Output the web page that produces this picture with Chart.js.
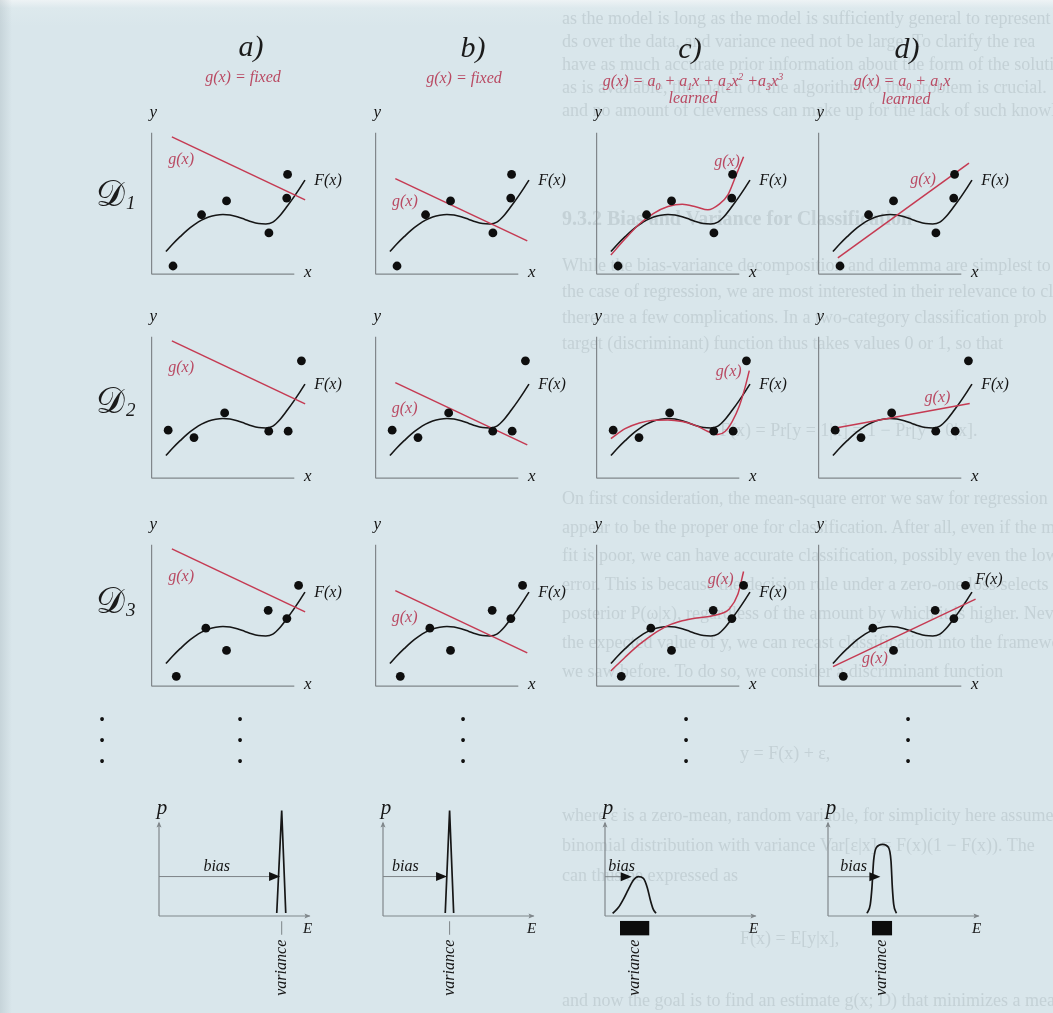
<!DOCTYPE html>
<html>
<head>
<meta charset="utf-8">
<script src="https://cdn.jsdelivr.net/npm/chart.js@4.4.1/dist/chart.umd.min.js"></script>
<style>
  html, body { margin: 0; padding: 0; }
  body { width: 1053px; height: 1013px; overflow: hidden; background: #d9e6eb; }
  #page { position: absolute; left: 0; top: 0; width: 1053px; height: 1013px; overflow: hidden;
          background: linear-gradient(to bottom, #eef3f5 0px, #dde9ed 8px, #d9e6eb 26px); font-family: "Liberation Serif", "DejaVu Serif", serif; }
  #edge { position: absolute; left: 0; top: 0; width: 12px; height: 1013px; background: linear-gradient(to right, rgba(150,165,172,0.28), rgba(150,165,172,0)); }
  .bleed { position: absolute; left: 0; top: 0; width: 1053px; height: 1013px; color: #c4d1d6; font-size: 18px; filter: blur(0.7px); }
  .bleed div { position: absolute; white-space: nowrap; line-height: 20px; }
  .bleed .h { font-weight: bold; font-size: 20px; }
  canvas { position: absolute; }
  .t { position: absolute; font-style: italic; white-space: nowrap; line-height: 1; transform: translate(-50%, -50%); }
  .title { font-size: 30px; color: #1b1b1b; }
  .sub { font-size: 16px; color: #b94a63; }
  .sub sub, .sub sup { font-size: 10px; line-height: 0; }
  .dl { position: absolute; white-space: nowrap; color: #1b1b1b; line-height: 1; }
  .dl .cal { font-size: 36px; font-family: "DejaVu Serif", "Noto Sans", serif; }
  .dl .n { font-size: 19px; font-style: italic; font-family: "Liberation Serif", serif; position: relative; top: 3px; margin-left: 1px; }
  .dots { position: absolute; font-size: 16px; line-height: 21px; color: #111; transform: translateX(-50%); font-family: "Liberation Serif", serif; }
</style>
</head>
<body>
<div id="page">
  <div id="edge"></div>
  <div class="bleed" id="bleed"></div>

  <div class="t title" style="left:251px;top:46px">a)</div>
  <div class="t title" style="left:473px;top:47px">b)</div>
  <div class="t title" style="left:690px;top:48px">c)</div>
  <div class="t title" style="left:907px;top:48px">d)</div>

  <div class="t sub" style="left:243px;top:77px">g(x) = fixed</div>
  <div class="t sub" style="left:464px;top:78px">g(x) = fixed</div>
  <div class="t sub" style="left:693px;top:81px">g(x) = a<sub>0</sub> + a<sub>1</sub>x + a<sub>2</sub>x<sup>2</sup> +a<sub>3</sub>x<sup>3</sup></div>
  <div class="t sub" style="left:693px;top:98px">learned</div>
  <div class="t sub" style="left:902px;top:81px">g(x) = a<sub>0</sub> + a<sub>1</sub>x</div>
  <div class="t sub" style="left:906px;top:99px">learned</div>

  <div class="dl" style="left:96px;top:176px"><span class="cal">𝒟</span><span class="n">1</span></div>
  <div class="dl" style="left:96px;top:383px"><span class="cal">𝒟</span><span class="n">2</span></div>
  <div class="dl" style="left:96px;top:583px"><span class="cal">𝒟</span><span class="n">3</span></div>

  <div class="dots" style="left:102px;top:709px">•<br>•<br>•</div>
  <div class="dots" style="left:240px;top:709px">•<br>•<br>•</div>
  <div class="dots" style="left:463px;top:709px">•<br>•<br>•</div>
  <div class="dots" style="left:686px;top:709px">•<br>•<br>•</div>
  <div class="dots" style="left:908px;top:709px">•<br>•<br>•</div>
</div>

<script>
// ---------- target function F(x), sampled ----------
const fX = [1.0, 1.5, 2.0, 2.5, 3.0, 3.5, 4.0, 4.5, 5.0, 5.5, 6.0, 6.5, 7.0, 7.5, 8.0, 8.5, 9.0, 9.5, 10.0, 10.4, 10.75];
const fY = [1.6, 2.15, 2.65, 3.12, 3.5, 3.82, 4.04, 4.17, 4.22, 4.18, 4.06, 3.89, 3.71, 3.58, 3.55, 3.68, 4.15, 4.8, 5.5, 6.1, 6.65];

// ---------- training sets D1, D2, D3 ----------
const d1X = [1.5, 3.5, 5.25, 8.22, 9.47, 9.53];
const d1Y = [0.58, 4.2, 5.18, 2.92, 5.38, 7.05];
const d2X = [1.16, 2.97, 5.12, 8.21, 9.57, 10.5];
const d2Y = [3.39, 2.87, 4.61, 3.32, 3.32, 8.29];
const d3X = [1.73, 3.8, 5.25, 8.17, 9.48, 10.3];
const d3Y = [0.7, 4.1, 2.53, 5.36, 4.78, 7.12];

// ---------- column a / b: fixed g(x) ----------
const gFixedAX = [1.42, 10.76];
const gFixedAY = [9.7, 5.25];
const gFixedBX = [1.38, 10.63];
const gFixedBY = [6.75, 2.35];

// ---------- column c: learned cubic g(x) per training set ----------
const gCubic1X = [1.0, 2.0, 3.0, 4.0, 5.0, 6.0, 7.0, 7.8, 8.6, 9.2, 9.7, 10.3];
const gCubic1Y = [1.35, 2.5, 3.55, 4.3, 4.78, 4.95, 4.75, 4.55, 4.95, 5.6, 6.8, 8.3];
const gCubic2X = [1.0, 2.0, 3.0, 4.0, 5.0, 6.0, 7.0, 7.8, 8.5, 9.0, 9.5, 10.0, 10.4, 10.7];
const gCubic2Y = [2.8, 3.5, 3.9, 4.1, 4.12, 4.0, 3.7, 3.3, 3.08, 3.3, 4.0, 5.1, 6.4, 7.6];
const gCubic3X = [1.0, 2.0, 3.0, 4.0, 5.0, 6.0, 7.0, 8.0, 8.8, 9.3, 9.9, 10.3];
const gCubic3Y = [1.08, 2.05, 2.95, 3.7, 4.28, 4.62, 4.82, 4.95, 5.15, 5.45, 6.5, 8.1];

// ---------- column d: learned linear g(x) per training set ----------
const gLin1X = [1.35, 10.54];
const gLin1Y = [1.15, 7.84];
const gLin2X = [1.01, 10.59];
const gLin2Y = [3.51, 5.27];
const gLin3X = [1.01, 11.0];
const gLin3Y = [1.38, 6.15];

// ---------- error distributions p(E) ----------
const spikeAX = [7.85, 8.18, 8.45];
const spikeAY = [0.2, 7.03, 0.2];
const spikeBX = [4.15, 4.44, 4.71];
const spikeBY = [0.2, 7.03, 0.2];
const bellCX = [0.51, 0.89, 1.22, 1.56, 1.89, 2.22, 2.56, 2.82, 3.04, 3.22, 3.4];
const bellCY = [0.18, 0.56, 1.11, 1.78, 2.38, 2.62, 2.51, 1.89, 1.0, 0.44, 0.18];
const bellDX = [2.6, 2.82, 2.93, 3.04, 3.22, 3.64, 4.04, 4.2, 4.29, 4.38, 4.56];
const bellDY = [0.18, 0.78, 1.89, 3.67, 4.56, 4.78, 4.56, 3.67, 1.89, 0.78, 0.18];
const biasLevel = [2.63, 2.63, 2.62, 2.62];
const biasTip = [8.07, 4.27, 1.78, 3.49];
const varFrom = [8.18, 4.44, 1.0, 2.93];
const varTo = [8.18, 4.44, 2.95, 4.27];

// ---------- text of the following page, showing through ----------
const bleedLines = [
  [562, 18, "as the model is long as the model is sufficiently general to represent"],
  [562, 41, "ds over the data, and variance need not be large. To clarify the rea"],
  [562, 64, "have as much accurate prior information about the form of the solutio"],
  [562, 87, "as is available, the match of the algorithm to the problem is crucial."],
  [562, 110, "and no amount of cleverness can make up for the lack of such knowledge"],
  [562, 218, "9.3.2 Bias and Variance for Classification", "h"],
  [562, 265, "While the bias-variance decomposition and dilemma are simplest to"],
  [562, 291, "the case of regression, we are most interested in their relevance to clas"],
  [562, 317, "there are a few complications. In a two-category classification prob"],
  [562, 343, "target (discriminant) function thus takes values 0 or 1, so that"],
  [720, 430, "F(x) = Pr[y = 1|x] = 1 − Pr[y = 0|x]."],
  [562, 498, "On first consideration, the mean-square error we saw for regression (Eq."],
  [562, 527, "appear to be the proper one for classification. After all, even if the mea"],
  [562, 555, "fit is poor, we can have accurate classification, possibly even the lowes"],
  [562, 584, "error. This is because the decision rule under a zero-one loss selects the"],
  [562, 613, "posterior P(ω|x), regardless of the amount by which it is higher. Neverth"],
  [562, 642, "the expected value of y, we can recast classification into the framework"],
  [562, 671, "we saw before. To do so, we consider a discriminant function"],
  [740, 753, "y = F(x) + ε,"],
  [562, 815, "where ε is a zero-mean, random variable, for simplicity here assumed"],
  [562, 845, "binomial distribution with variance Var[ε|x] = F(x)(1 − F(x)). The"],
  [562, 875, "can thus be expressed as"],
  [740, 938, "F(x) = E[y|x],"],
  [562, 1000, "and now the goal is to find an estimate g(x; D) that minimizes a mea"]
];
const bleed = document.getElementById('bleed');
bleedLines.forEach(([x, y, s, cls]) => {
  const d = document.createElement('div');
  d.textContent = s;
  d.style.left = x + 'px';
  d.style.top = (y - 10) + 'px';
  if (cls) d.className = cls;
  bleed.appendChild(d);
});

// ---------- helpers ----------
const pts = (xs, ys) => xs.map((x, i) => ({ x: x, y: ys[i] }));
const SERIF = '"Liberation Serif", "DejaVu Serif", serif';
const RED_LINE = '#c53a52';
const RED_TEXT = '#b94a63';
const INK = '#161616';
const AXIS = '#80878b';

// draws axes, arrowheads, boxes and labels in data coordinates
const decorPlugin = {
  id: 'decor',
  beforeDatasetsDraw(chart) {
    const d = chart.canvas.decor; if (!d) return;
    const ctx = chart.ctx, X = v => chart.scales.x.getPixelForValue(v), Y = v => chart.scales.y.getPixelForValue(v);
    ctx.save();
    ctx.lineCap = 'butt';
    (d.segments || []).forEach(s => {
      ctx.strokeStyle = s.color; ctx.lineWidth = s.width;
      ctx.beginPath(); ctx.moveTo(X(s.x1), Y(s.y1)); ctx.lineTo(X(s.x2), Y(s.y2)); ctx.stroke();
    });
    ctx.restore();
  },
  afterDatasetsDraw(chart) {
    const d = chart.canvas.decor; if (!d) return;
    const ctx = chart.ctx, X = v => chart.scales.x.getPixelForValue(v), Y = v => chart.scales.y.getPixelForValue(v);
    ctx.save();
    (d.rects || []).forEach(r => {
      ctx.fillStyle = r.color;
      const x1 = X(r.x1), x2 = X(r.x2), y1 = Y(r.y1), y2 = Y(r.y2);
      ctx.fillRect(Math.min(x1, x2), Math.min(y1, y2), Math.abs(x2 - x1), Math.abs(y2 - y1));
    });
    (d.heads || []).forEach(h => {
      const tx = X(h.x), ty = Y(h.y);
      ctx.fillStyle = h.color;
      ctx.beginPath();
      if (h.dir === 'right') {
        ctx.moveTo(tx, ty); ctx.lineTo(tx - h.len, ty - h.half); ctx.lineTo(tx - h.len * h.notch, ty); ctx.lineTo(tx - h.len, ty + h.half);
      } else {
        ctx.moveTo(tx, ty); ctx.lineTo(tx - h.half, ty + h.len); ctx.lineTo(tx, ty + h.len * h.notch); ctx.lineTo(tx + h.half, ty + h.len);
      }
      ctx.closePath(); ctx.fill();
    });
    (d.labels || []).forEach(l => {
      ctx.save();
      ctx.font = 'italic ' + l.size + 'px ' + SERIF;
      ctx.fillStyle = l.color || INK;
      ctx.textAlign = l.align || 'center';
      ctx.textBaseline = 'middle';
      ctx.translate(X(l.x), Y(l.y));
      if (l.rotate) ctx.rotate(l.rotate);
      ctx.fillText(l.text, 0, 0);
      ctx.restore();
    });
    ctx.restore();
  }
};
Chart.register(decorPlugin);

function makeChart(left, top, w, h, originX, originY, scale, datasets, decor) {
  const c = document.createElement('canvas');
  c.width = w; c.height = h;
  c.style.left = left + 'px'; c.style.top = top + 'px';
  c.style.width = w + 'px'; c.style.height = h + 'px';
  c.decor = decor;
  document.getElementById('page').appendChild(c);
  new Chart(c, {
    type: 'line',
    data: { datasets: datasets },
    options: {
      responsive: false, animation: false, devicePixelRatio: 1, events: [],
      layout: { padding: 0 },
      plugins: { legend: { display: false }, tooltip: { enabled: false } },
      scales: {
        x: { type: 'linear', display: false, min: (left - originX) / scale, max: (left + w - originX) / scale },
        y: { type: 'linear', display: false, min: (originY - (top + h)) / scale, max: (originY - top) / scale }
      }
    }
  });
}

// ---------- fit panels (rows = training sets, columns = models) ----------
const S = 14.8;
const colX0 = [148, 372, 593, 814.5];
const rowY0 = [278, 481.5, 690];
const sets = [
  { px: d1X, py: d1Y, cx: gCubic1X, cy: gCubic1Y, lx: gLin1X, ly: gLin1Y },
  { px: d2X, py: d2Y, cx: gCubic2X, cy: gCubic2Y, lx: gLin2X, ly: gLin2Y },
  { px: d3X, py: d3Y, cx: gCubic3X, cy: gCubic3Y, lx: gLin3X, ly: gLin3Y }
];
const gLabelAt = [
  [[2.07, 8.07], [2.05, 5.13], [9.14, 7.95], [7.32, 6.66]],
  [[2.07, 7.77], [2.03, 4.88], [9.26, 7.52], [8.33, 5.66]],
  [[2.07, 7.72], [2.03, 4.8], [8.7, 7.5], [3.94, 1.91]]
];

sets.forEach((set, r) => {
  colX0.forEach((x0, c) => {
    const y0 = rowY0[r];
    let gx, gy, smooth = false;
    if (c === 0) { gx = gFixedAX; gy = gFixedAY; }
    else if (c === 1) { gx = gFixedBX; gy = gFixedBY; }
    else if (c === 2) { gx = set.cx; gy = set.cy; smooth = true; }
    else { gx = set.lx; gy = set.ly; }
    const fLab = (r === 2 && c === 3) ? [10.97, 7.55] : [11.4, 6.6];
    const datasets = [
      { data: pts(set.px, set.py), showLine: false, pointRadius: 4.4, pointBackgroundColor: '#0e0e0e', pointBorderWidth: 0, order: 0 },
      { data: pts(gx, gy), borderColor: RED_LINE, borderWidth: 1.5, pointRadius: 0, fill: false,
        cubicInterpolationMode: smooth ? 'monotone' : 'default', tension: 0, order: 1 },
      { data: pts(fX, fY), borderColor: INK, borderWidth: 1.6, pointRadius: 0, fill: false,
        cubicInterpolationMode: 'monotone', order: 2 }
    ];
    const decor = {
      segments: [
        { x1: 0, y1: 0, x2: 10, y2: 0, color: AXIS, width: 1.2 },
        { x1: 0, y1: 0, x2: 0, y2: 10, color: AXIS, width: 1.2 }
      ],
      labels: [
        { text: 'y', x: 0.12, y: 11.45, size: 17 },
        { text: 'x', x: 10.95, y: 0.1, size: 17 },
        { text: 'F(x)', x: fLab[0], y: fLab[1], size: 16, align: 'left' },
        { text: 'g(x)', x: gLabelAt[r][c][0], y: gLabelAt[r][c][1], size: 16, color: RED_TEXT }
      ]
    };
    makeChart(x0 - 22, y0 - 188, 245, 202, x0, y0, S, datasets, decor);
  });
});

// ---------- error distribution panels ----------
const S2 = 15;
const distX0 = [159, 382.7, 605, 827.7];
const distY0 = 916;
const biasLabelX = [3.85, 1.49, 1.11, 1.71];
const curves = [[spikeAX, spikeAY, false], [spikeBX, spikeBY, false], [bellCX, bellCY, true], [bellDX, bellDY, true]];

distX0.forEach((ox, i) => {
  const [cx, cy, smooth] = curves[i];
  const datasets = [
    { data: pts(cx, cy), borderColor: INK, borderWidth: 1.7, pointRadius: 0, fill: false,
      cubicInterpolationMode: smooth ? 'monotone' : 'default', tension: 0, order: 0 },
    { data: pts([0, biasTip[i] - 0.5], [biasLevel[i], biasLevel[i]]), borderColor: '#7d8488', borderWidth: 1, pointRadius: 0, order: 1 }
  ];
  const vc = (varFrom[i] + varTo[i]) / 2;
  const decor = {
    segments: [
      { x1: 0, y1: 0, x2: 10.05, y2: 0, color: AXIS, width: 1.2 },
      { x1: 0, y1: 0, x2: 0, y2: 6.2, color: AXIS, width: 1.2 }
    ],
    rects: [],
    heads: [
      { x: biasTip[i], y: biasLevel[i], dir: 'right', len: 11, half: 4.5, notch: 1, color: '#111' },
      { x: 10.1, y: 0, dir: 'right', len: 6, half: 2.5, notch: 0.8, color: AXIS },
      { x: 0, y: 6.3, dir: 'up', len: 6, half: 2.5, notch: 0.8, color: AXIS }
    ],
    labels: [
      { text: 'p', x: 0.2, y: 7.15, size: 21 },
      { text: 'E', x: 9.9, y: -0.9, size: 15 },
      { text: 'bias', x: biasLabelX[i], y: 3.3, size: 16 },
      { text: 'variance', x: vc, y: -3.45, size: 16, rotate: -Math.PI / 2 }
    ]
  };
  if (varTo[i] - varFrom[i] > 0.01) {
    decor.rects.push({ x1: varFrom[i], x2: varTo[i], y1: -0.33, y2: -1.29, color: '#0c0c0c' });
  } else {
    decor.segments.push({ x1: varFrom[i], y1: -0.35, x2: varFrom[i], y2: -1.25, color: '#7d8488', width: 1 });
  }
  makeChart(ox - 18, distY0 - 122, 195, 205, ox, distY0, S2, datasets, decor);
});
</script>
</body>
</html>
